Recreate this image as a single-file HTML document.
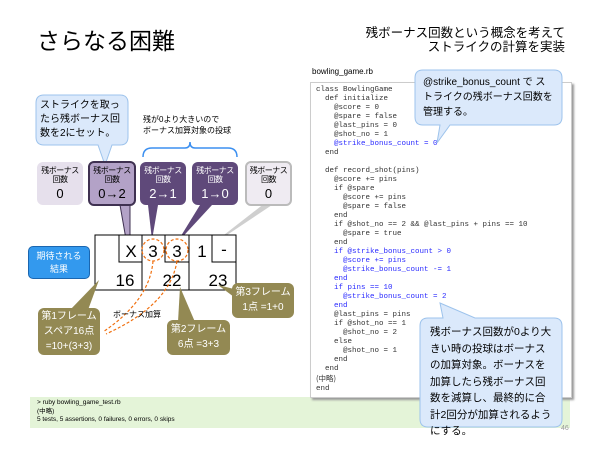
<!DOCTYPE html>
<html><head><meta charset="utf-8"><style>
body{margin:0;width:600px;height:450px;background:#fff;position:relative;overflow:hidden;font-family:"Liberation Sans","Noto Sans CJK JP",sans-serif;}
.a{position:absolute;}
.code{position:absolute;left:310px;top:82px;width:260px;height:314px;background:#fff;border:1px solid #ccc;box-shadow:2px 2px 2px #999;}
.code pre{margin:0;position:absolute;left:5px;top:3px;font-family:"Liberation Mono",monospace;font-size:7.5px;line-height:9px;color:#333;}
.b{color:#2a2aff;}
.box{position:absolute;border-radius:6px;text-align:center;font-size:8px;line-height:9px;box-sizing:border-box;padding-top:4px;white-space:nowrap;letter-spacing:-0.5px;}
.box b{display:block;font-weight:normal;font-size:13px;line-height:16px;margin-top:2px;letter-spacing:0;}
.ol{position:absolute;background:#938953;border-radius:6px;color:#fff;text-align:center;font-size:10px;line-height:15px;}
</style></head><body>
<div class="a" style="left:37px;top:22px;font-size:23px;">さらなる困難</div>
<div class="a" style="right:35px;top:26px;font-size:12.5px;text-align:right;line-height:14px;">残ボーナス回数という概念を考えて<br>ストライクの計算を実装</div>
<div class="a" style="left:30px;top:397px;width:540px;height:31px;background:#e4f4d8;"></div>
<div class="a" style="left:37px;top:399px;font-size:6.5px;line-height:8.5px;">&gt; ruby bowling_game_test.rb<br>(中略)<br>5 tests, 5 assertions, 0 failures, 0 errors, 0 skips</div>
<div class="a" style="left:561px;top:425px;font-size:7px;color:#999;">46</div>
<div class="a" style="left:312px;top:67px;font-size:8px;">bowling_game.rb</div>
<div class="code"><pre>class BowlingGame
  def initialize
    @score = 0
    @spare = false
    @last_pins = 0
    @shot_no = 1
    <span class="b">@strike_bonus_count = 0</span>
  end

  def record_shot(pins)
    @score += pins
    if @spare
      @score += pins
      @spare = false
    end
    if @shot_no == 2 &amp;&amp; @last_pins + pins == 10
      @spare = true
    end
<span class="b">    if @strike_bonus_count &gt; 0
      @score += pins
      @strike_bonus_count -= 1
    end
    if pins == 10
      @strike_bonus_count = 2
    end</span>
    @last_pins = pins
    if @shot_no == 1
      @shot_no = 2
    else
      @shot_no = 1
    end
  end
<span style="font-family:'Noto Sans CJK JP',sans-serif">(中略)</span>
end</pre></div>
<svg class="a" style="left:0;top:0" width="600" height="450">
<g fill="#dbe9fb" stroke="#9dc3ec" stroke-width="1">
<path d="M48,95 H120 Q128,95 128,103 V137 Q128,145 120,145 H112 L105,165 L98,145 H44 Q36,145 36,137 V103 Q36,95 44,95Z"/>
<path d="M423,70 H554 Q562,70 562,78 V117 Q562,125 554,125 H450 L437,143 L440,125 H423 Q415,125 415,117 V78 Q415,70 423,70Z"/>
<path d="M428,318 H443 L440,303 L475,318 H554 Q562,318 562,326 V419 Q562,427 554,427 H428 Q420,427 420,419 V326 Q420,318 428,318Z"/>
</g>
<path d="M143,157 Q143,148 152,148 H185 Q190,148 190,142 Q190,148 195,148 H228 Q237,148 237,157" fill="none" stroke="#3b8ff0" stroke-width="1.5"/>
<polygon points="120,205 130,205 130,262" fill="#b3a2c7" stroke="#3f3151"/>
<polygon points="148,205 158,205 152,240" fill="#5f497a"/>
<polygon points="200,205 212,205 176,244" fill="#5f497a"/>
<polygon points="265,203 275,203 206,249" fill="#cfcfcf"/>
<rect x="95" y="235" width="141" height="55" fill="#fff" stroke="#000"/>
<line x1="142" y1="235" x2="142" y2="290" stroke="#000"/><line x1="189" y1="235" x2="189" y2="290" stroke="#000"/>
<rect x="119" y="235" width="23" height="27" fill="none" stroke="#000"/>
<rect x="165" y="235" width="24" height="27" fill="none" stroke="#000"/>
<rect x="212" y="235" width="24" height="27" fill="none" stroke="#000"/>
<g font-family="Liberation Sans" font-size="17" text-anchor="middle">
<text x="131" y="257">X</text><text x="153" y="257">3</text><text x="177" y="257">3</text><text x="202" y="257">1</text><text x="224" y="255">-</text>
<text x="125" y="286">16</text><text x="172" y="286">22</text><text x="218" y="286">23</text>
</g>
<g fill="none" stroke="#f07010" stroke-dasharray="3,2" stroke-width="1.2">
<circle cx="153" cy="250" r="11"/><circle cx="177" cy="250" r="11"/>
<path d="M153,261 Q150,300 103,332"/><path d="M177,261 Q170,305 106,334"/>
</g>
<polygon points="99,280 88,310 70,310" fill="#938953"/>
<polygon points="180,287 195,322 178,322" fill="#938953"/>
<polygon points="218,285 238,290 238,300" fill="#938953"/>
<text x="113" y="317" font-size="8" font-family="Liberation Sans,Noto Sans CJK JP">ボーナス加算</text>
</svg>
<div class="a" style="left:40px;top:99px;font-size:10px;line-height:14px;">ストライクを取っ<br>たら残ボーナス回<br>数を2にセット。</div>
<div class="a" style="left:143px;top:114px;font-size:8px;line-height:11px;">残が0より大きいので<br>ボーナス加算対象の投球</div>
<div class="a" style="left:423px;top:75px;font-size:10px;line-height:15px;">@strike_bonus_count で ス<br>トライクの残ボーナス回数を<br>管理する。</div>
<div class="a" style="left:430px;top:324px;font-size:10.5px;line-height:16.5px;">残ボーナス回数が0より大<br>きい時の投球はボーナス<br>の加算対象。ボーナスを<br>加算したら残ボーナス回<br>数を減算し、最終的に合<br>計2回分が加算されるよう<br>にする。</div>
<div class="box" style="left:37px;top:162px;width:46px;height:43px;background:#e6e0ec;">残ボーナス<br>回数<b>0</b></div>
<div class="box" style="left:88px;top:161px;width:48px;height:45px;background:#b3a2c7;border:2px solid #3f3151;padding-top:3px;">残ボーナス<br>回数<b>0→2</b></div>
<div class="box" style="left:140px;top:162px;width:46px;height:43px;background:#5f497a;color:#fff;">残ボーナス<br>回数<b>2→1</b></div>
<div class="box" style="left:192px;top:162px;width:46px;height:43px;background:#5f497a;color:#fff;">残ボーナス<br>回数<b>1→0</b></div>
<div class="box" style="left:245px;top:161px;width:47px;height:45px;background:#efebf2;border:2px solid #bbb;padding-top:3px;">残ボーナス<br>回数<b>0</b></div>
<div class="a" style="left:28px;top:246px;width:62px;height:33px;background:#3399ee;border:1px solid #1a66b0;border-radius:5px;color:#fff;font-size:9px;line-height:13px;text-align:center;padding-top:3px;box-sizing:border-box;">期待される<br>結果</div>
<div class="ol" style="left:38px;top:308px;width:62px;height:47px;padding-top:1px;box-sizing:border-box;">第1フレーム<br>スペア16点<br>=10+(3+3)</div>
<div class="ol" style="left:167px;top:320px;width:63px;height:35px;padding-top:2px;box-sizing:border-box;">第2フレーム<br>6点 =3+3</div>
<div class="ol" style="left:232px;top:283px;width:62px;height:35px;padding-top:2px;box-sizing:border-box;">第3フレーム<br>1点 =1+0</div>
</body></html>
